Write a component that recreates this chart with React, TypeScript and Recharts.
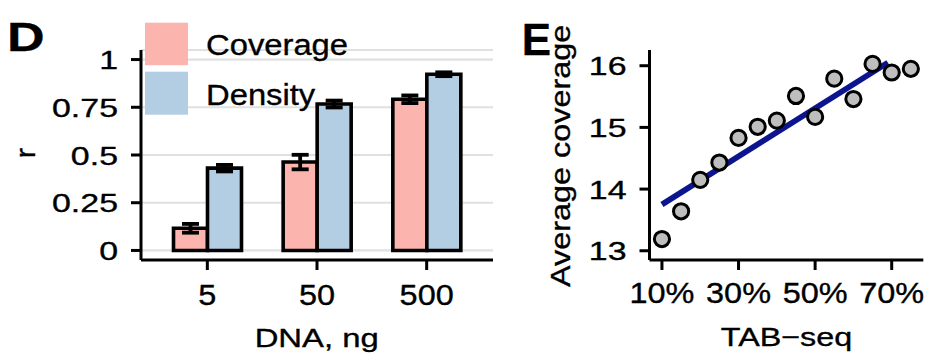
import React from 'react';
import {
  BarChart,
  Bar,
  XAxis,
  YAxis,
  CartesianGrid,
  ErrorBar,
  ComposedChart,
  Scatter,
  Line,
} from 'recharts';

const FONT = '"Liberation Sans", Arial, Helvetica, sans-serif';

// ---- Panel D data ----
const doses = ['5', '50', '500'];
const coverageR = [0.116, 0.463, 0.792];
const coverageErr = [0.023, 0.038, 0.02];
const densityR = [0.431, 0.767, 0.923];
const densityErr = [0.017, 0.018, 0.01];
const rTicks = [0, 0.25, 0.5, 0.75, 1];
const rTickLabels = ['0', '0.25', '0.5', '0.75', '1'];
const seriesNames = ['Coverage', 'Density'];
const seriesColors = ['#FBB4AE', '#B3CDE3'];

// ---- Panel E data ----
const tabSeq = [10, 15, 20, 25, 30, 35, 40, 45, 50, 55, 60, 65, 70, 75];
const avgCoverage = [13.19, 13.64, 14.15, 14.43, 14.83, 15.01, 15.11, 15.51, 15.17, 15.79, 15.46, 16.03, 15.89, 15.95];
const fitX = [10, 69];
const fitY = [13.75, 16.05];
const tabTicks = [10, 30, 50, 70];
const tabTickLabels = ['10%', '30%', '50%', '70%'];
const covTicks = [13, 14, 15, 16];
const covTickLabels = ['13', '14', '15', '16'];

const barData = doses.map((d, i) => ({
  dose: d,
  coverage: coverageR[i],
  coverageErr: coverageErr[i],
  density: densityR[i],
  densityErr: densityErr[i],
}));
const pointData = tabSeq.map((x, i) => ({ x, y: avgCoverage[i] }));
const fitData = fitX.map((x, i) => ({ x, y: fitY[i] }));

type STextProps = {
  x: number;
  y: number;
  size: number;
  sx?: number;
  anchor?: 'start' | 'middle' | 'end';
  rotate?: boolean;
  bold?: boolean;
  dy?: string | number;
  children: React.ReactNode;
};

const SText = ({ x, y, size, sx = 1, anchor = 'start', rotate = false, bold = false, dy = 0, children }: STextProps) => (
  <text
    transform={`translate(${x},${y})${rotate ? ' rotate(-90)' : ''} scale(${sx},1)`}
    x={0}
    y={0}
    dy={dy}
    textAnchor={anchor}
    fontSize={size}
    fontFamily={FONT}
    fontWeight={bold ? 700 : 400}
    fill="#000"
    stroke="#000"
    strokeWidth={bold ? 0.3 : 0.35}
  >
    {children}
  </text>
);

const makeYTick = (ticks: number[], labels: string[]) => (props: any) => {
  const { x, y, payload } = props;
  const i = ticks.indexOf(payload.value);
  return (
    <SText x={x} y={y} dy="0.36em" size={26.5} sx={1.28} anchor="end">
      {i >= 0 ? labels[i] : String(payload.value)}
    </SText>
  );
};

const makeXTick = (ticks: (number | string)[], labels: string[], baseline: number) => (props: any) => {
  const { x, y, payload } = props;
  const i = ticks.indexOf(payload.value);
  return (
    <SText x={x} y={y + baseline} size={29.5} sx={1.1} anchor="middle">
      {i >= 0 ? labels[i] : String(payload.value)}
    </SText>
  );
};

const axisStyle = { stroke: '#000', strokeWidth: 3 };

const PointShape = (p: any) => (
  <circle cx={p.cx} cy={p.cy} r={7.6} fill="#BEBEBE" stroke="#000" strokeWidth={3} />
);

export default function App() {
  return (
    <div
      style={{
        position: 'absolute',
        left: 0,
        top: 0,
        width: 948,
        height: 356,
        background: '#fff',
        overflow: 'hidden',
      }}
    >
      <div style={{ position: 'absolute', left: 0, top: 0 }}>
        <BarChart
          width={500}
          height={356}
          data={barData}
          margin={{ top: 50, right: 7, bottom: 0, left: 0 }}
          barCategoryGap={21}
          barGap={0}
        >
          <CartesianGrid vertical={false} stroke="#E0E0E0" strokeWidth={2.2} />
          <XAxis
            dataKey="dose"
            type="category"
            height={96}
            padding={{ left: 11.5, right: 11.5 }}
            tickSize={10}
            tickMargin={0}
            axisLine={axisStyle}
            tickLine={axisStyle}
            tick={makeXTick(doses, doses, 35)}
            interval={0}
          />
          <YAxis
            type="number"
            width={141}
            domain={[-0.05, 1.05]}
            ticks={rTicks}
            allowDataOverflow
            tickSize={10}
            tickMargin={13}
            axisLine={axisStyle}
            tickLine={axisStyle}
            tick={makeYTick(rTicks, rTickLabels)}
            interval={0}
          />
          <Bar dataKey="coverage" fill={seriesColors[0]} stroke="#000" strokeWidth={3.6} isAnimationActive={false}>
            <ErrorBar dataKey="coverageErr" width={8.5} stroke="#000" strokeWidth={3.8} direction="y" />
          </Bar>
          <Bar dataKey="density" fill={seriesColors[1]} stroke="#000" strokeWidth={3.6} isAnimationActive={false}>
            <ErrorBar dataKey="densityErr" width={8.5} stroke="#000" strokeWidth={3.8} direction="y" />
          </Bar>
        </BarChart>
      </div>

      <div style={{ position: 'absolute', left: 500, top: 0 }}>
        <ComposedChart width={448} height={356} margin={{ top: 50, right: 24.7, bottom: 0, left: 0 }}>
          <XAxis
            dataKey="x"
            type="number"
            height={96}
            domain={[6.75, 78.25]}
            ticks={tabTicks}
            allowDataOverflow
            tickSize={10}
            tickMargin={0}
            axisLine={axisStyle}
            tickLine={axisStyle}
            tick={makeXTick(tabTicks, tabTickLabels, 33)}
            interval={0}
          />
          <YAxis
            dataKey="y"
            type="number"
            width={149.5}
            domain={[12.85, 16.255]}
            ticks={covTicks}
            allowDataOverflow
            tickSize={10}
            tickMargin={13}
            axisLine={axisStyle}
            tickLine={axisStyle}
            tick={makeYTick(covTicks, covTickLabels)}
            interval={0}
          />
          <Scatter data={pointData} dataKey="y" shape={PointShape} isAnimationActive={false} />
          <Line
            data={fitData}
            dataKey="y"
            type="linear"
            stroke="#0C158E"
            strokeWidth={5.8}
            dot={false}
            activeDot={false}
            isAnimationActive={false}
          />
        </ComposedChart>
      </div>

      {/* Overlay: panel letters, legend, axis titles */}
      <svg
        width={948}
        height={356}
        style={{ position: 'absolute', left: 0, top: 0, pointerEvents: 'none' }}
      >
        <SText x={7} y={50.7} size={41} sx={1.27} bold>
          D
        </SText>
        <SText x={521.8} y={55} size={44} bold>
          E
        </SText>

        {/* legend D */}
        <rect x={145} y={22.7} width={43} height={42.5} fill={seriesColors[0]} />
        <rect x={145} y={71.7} width={43} height={43} fill={seriesColors[1]} />
        <SText x={206} y={55} size={29} sx={1.13}>
          {seriesNames[0]}
        </SText>
        <SText x={206} y={104.5} size={29} sx={1.13}>
          {seriesNames[1]}
        </SText>

        {/* axis titles */}
        <SText x={35} y={153} size={28} sx={1.1} anchor="middle" rotate>
          r
        </SText>
        <SText x={316.7} y={346.5} size={26.5} sx={1.24} anchor="middle">
          DNA, ng
        </SText>
        <SText x={570} y={155.8} size={27} sx={1.2} anchor="middle" rotate>
          Average coverage
        </SText>
        <SText x={786.5} y={345.5} size={26.5} sx={1.22} anchor="middle">
          TAB−seq
        </SText>
      </svg>
    </div>
  );
}
